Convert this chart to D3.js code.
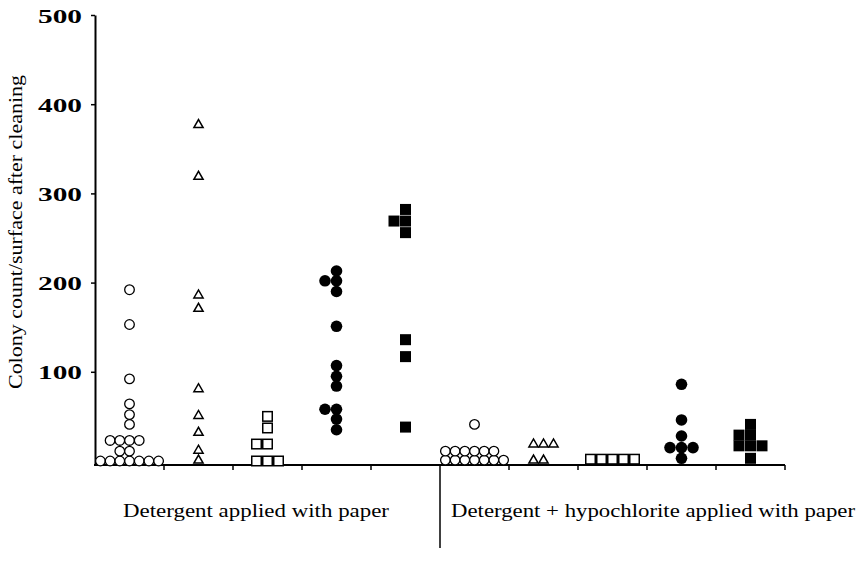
<!DOCTYPE html>
<html>
<head>
<meta charset="utf-8">
<script src="https://cdn.jsdelivr.net/npm/d3@7"></script>
<style>
  body { margin: 0; background: #fff; }
  svg { display: block; }
  text { font-family: "Liberation Serif", "DejaVu Serif", serif; fill: #000; }
</style>
</head>
<body>
<div id="chart"></div>
<script>
// groups, left to right
const groups = ["A1", "A2", "A3", "A4", "A5", "B1", "B2", "B3", "B4", "B5"];
const symbols = ["openCircle", "openTriangle", "openSquare", "filledCircle", "filledSquare",
                 "openCircle", "openTriangle", "openSquare", "filledCircle", "filledSquare"];
const treatments = ["Detergent applied with paper", "Detergent + hypochlorite applied with paper"];

// colony counts per surface, ties repeated
const valuesA1 = [0, 0, 0, 0, 0, 0, 0, 11, 11, 23, 23, 23, 23, 41, 52, 64, 92, 153, 192];
const valuesA2 = [2, 13, 33, 52, 82, 172, 187, 320, 378];
const valuesA3 = [0, 0, 0, 19, 19, 37, 50];
const valuesA4 = [35, 47, 58, 58, 84, 95, 107, 151, 190, 202, 202, 213];
const valuesA5 = [38, 117, 136, 256, 269, 269, 282];
const valuesB1 = [1, 1, 1, 1, 1, 1, 1, 11, 11, 11, 11, 11, 11, 41];
const valuesB2 = [2, 2, 20, 20, 20];
const valuesB3 = [2, 2, 2, 2, 2];
const valuesB4 = [3, 15, 15, 15, 28, 46, 86];
const valuesB5 = [3, 17, 17, 17, 29, 29, 41];
const allValues = [valuesA1, valuesA2, valuesA3, valuesA4, valuesA5,
                   valuesB1, valuesB2, valuesB3, valuesB4, valuesB5];

const yTicks = [100, 200, 300, 400, 500];

const width = 860, height = 576;
const svg = d3.select("#chart").append("svg")
    .attr("width", width).attr("height", height);

const x = d3.scaleBand().domain(groups).range([95, 785]);
const y = d3.scaleLinear().domain([-4.5, 500]).range([465, 15]);

// y axis
const yAxis = svg.append("g")
    .attr("transform", "translate(95,0)")
    .call(d3.axisLeft(y).tickValues(yTicks).tickSize(4).tickPadding(9).tickSizeOuter(0));
yAxis.select(".domain").attr("stroke", "#000").attr("stroke-width", 2);
yAxis.selectAll(".tick line").attr("stroke", "#000").attr("stroke-width", 1.5);
yAxis.selectAll(".tick text")
    .attr("fill", "#000")
    .style("font-size", "18px")
    .style("font-weight", "bold")
    .attr("textLength", 44)
    .attr("lengthAdjust", "spacingAndGlyphs")
    .attr("dy", "0.4em");

// x axis line with ticks at the group boundaries
svg.append("line")
    .attr("x1", 94).attr("x2", x.range()[1])
    .attr("y1", y(-4.5)).attr("y2", y(-4.5))
    .attr("stroke", "#000").attr("stroke-width", 2);

svg.selectAll(".xtick")
    .data(groups)
    .enter()
    .append("line")
    .attr("class", "xtick")
    .attr("x1", (d) => x(d) + x.bandwidth())
    .attr("x2", (d) => x(d) + x.bandwidth())
    .attr("y1", y(-4.5))
    .attr("y2", (d, i) => (i === 4 ? 548 : y(-4.5) + 5))
    .attr("stroke", "#000")
    .attr("stroke-width", 1.5);

// treatment labels
svg.selectAll(".treat")
    .data(treatments)
    .enter()
    .append("text")
    .attr("class", "treat")
    .attr("x", (d, i) => (i === 0 ? 256 : 653))
    .attr("y", 517)
    .attr("text-anchor", "middle")
    .style("font-size", "19px")
    .attr("textLength", (d, i) => (i === 0 ? 266 : 404))
    .attr("lengthAdjust", "spacingAndGlyphs")
    .text((d) => d);

svg.append("text")
    .attr("transform", "translate(22,232) rotate(-90)")
    .attr("text-anchor", "middle")
    .style("font-size", "19px")
    .attr("textLength", 314)
    .attr("lengthAdjust", "spacingAndGlyphs")
    .text("Colony count/surface after cleaning");

// lay ties side by side around the group centre
const step = { openCircle: 9.7, openTriangle: 10, openSquare: 11, filledCircle: 11.5, filledSquare: 11.5 };
const points = [];
allValues.forEach((vals, gi) => {
  const counts = d3.rollup(vals, (v) => v.length, (v) => v);
  counts.forEach((n, v) => {
    for (let k = 0; k < n; k++) {
      points.push({ group: groups[gi], symbol: symbols[gi], value: v, slot: k - Math.floor(n / 2) });
    }
  });
});

const cx = (d) => x(d.group) + x.bandwidth() / 2 + d.slot * step[d.symbol];

const marks = svg.append("g");
points.forEach((d) => {
  const px = cx(d), py = y(d.value);
  if (d.symbol === "openCircle" || d.symbol === "filledCircle") {
    const open = d.symbol === "openCircle";
    marks.append("circle")
        .attr("cx", px).attr("cy", py)
        .attr("r", open ? 4.8 : 5.8)
        .attr("fill", open ? "#fff" : "#000")
        .attr("stroke", "#000")
        .attr("stroke-width", open ? 1.3 : 0);
  } else if (d.symbol === "openSquare" || d.symbol === "filledSquare") {
    const open = d.symbol === "openSquare";
    const s = open ? 9.5 : 11;
    marks.append("rect")
        .attr("x", px - s / 2).attr("y", py - s / 2)
        .attr("width", s).attr("height", s)
        .attr("fill", open ? "#fff" : "#000")
        .attr("stroke", "#000")
        .attr("stroke-width", open ? 1.5 : 0);
  } else {
    marks.append("path")
        .attr("d", `M${px - 4.6},${py + 3.8}L${px + 4.6},${py + 3.8}L${px},${py - 4.2}Z`)
        .attr("fill", "#fff")
        .attr("stroke", "#000")
        .attr("stroke-width", 1.5)
        .attr("stroke-linejoin", "miter");
  }
});
</script>
</body>
</html>
